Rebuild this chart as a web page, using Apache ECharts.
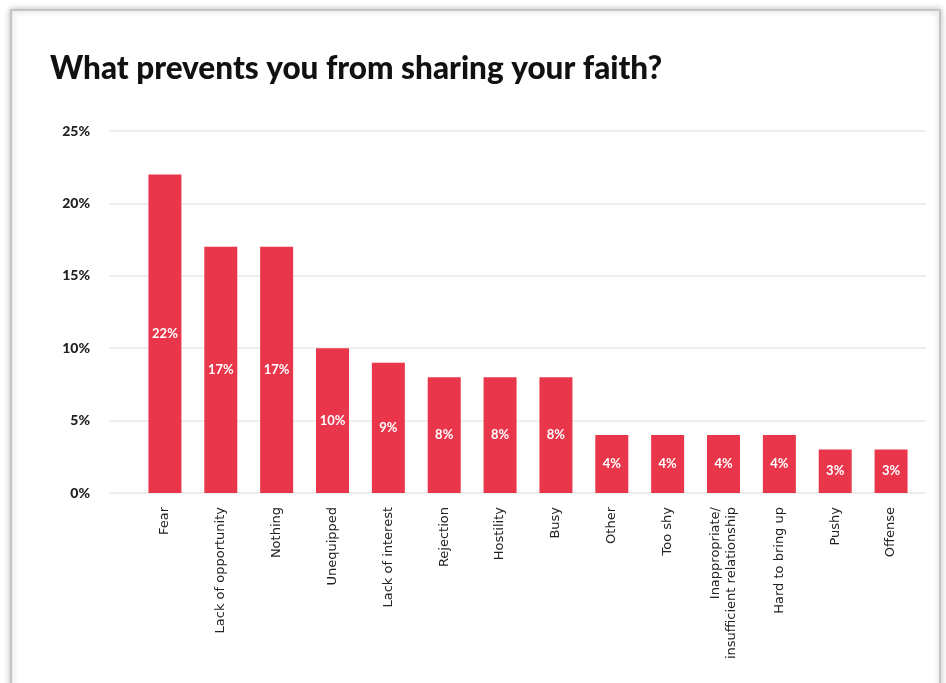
<!DOCTYPE html>
<html>
<head>
<meta charset="utf-8">
<style>
html,body{margin:0;padding:0;background:#fff;}
#c{width:946px;height:683px;}
</style>
<script src="https://cdn.jsdelivr.net/npm/echarts@6/dist/echarts.min.js"></script>
</head>
<body>
<div id="c"></div>
<script>
const categories = ["Fear","Lack of opportunity","Nothing","Unequipped","Lack of interest","Rejection","Hostility","Busy","Other","Too shy","Inappropriate/\ninsufficient relationship","Hard to bring up","Pushy","Offense"];
const values = [22,17,17,10,9,8,8,8,4,4,4,4,3,3];
const yTicks = [0,5,10,15,20,25];

const chart = echarts.init(document.getElementById('c'));
chart.setOption({
  backgroundColor:'#ffffff',
  animation:false,
  graphic:[{
    type:'rect', z:-10, silent:true,
    shape:{x:11,y:10,width:929,height:690},
    style:{fill:'#fff',stroke:'#c4c4c4',lineWidth:2,shadowBlur:6,shadowColor:'rgba(0,0,0,0.25)'}
  }],
  title:{
    text:'What prevents you from sharing your faith?',
    left:45, top:48,
    textStyle:{fontFamily:'Lato',fontWeight:900,fontSize:31.5,color:'#111'}
  },
  grid:[
    {left:109,right:20,top:131,bottom:190},
    {left:137,right:27,top:131,bottom:190}
  ],
  xAxis:[
    {gridIndex:0,type:'value',show:false,min:0,max:1},
    {gridIndex:1,type:'category',data:categories,
      axisLine:{show:false},axisTick:{show:false},
      axisLabel:{rotate:90,margin:14,fontFamily:'DejaVu Sans',fontSize:13,color:'#222',lineHeight:16,interval:0}}
  ],
  yAxis:[
    {gridIndex:0,type:'value',min:yTicks[0],max:yTicks[yTicks.length-1],interval:5,
      axisLine:{show:false},axisTick:{show:false},
      splitLine:{lineStyle:{color:'#e8e8e8',width:1.5}},
      axisLabel:{formatter:'{value}%',margin:19,fontFamily:'Lato',fontWeight:900,fontSize:14,color:'#222'}},
    {gridIndex:1,type:'value',min:0,max:25,show:false}
  ],
  series:[{
    type:'bar',xAxisIndex:1,yAxisIndex:1,data:values,barWidth:33,
    itemStyle:{color:'#E9364B'},
    label:{show:true,position:'inside',formatter:'{c}%',color:'#fff',fontFamily:'Lato',fontWeight:'bold',fontSize:13}
  }]
});
</script>
</body>
</html>
